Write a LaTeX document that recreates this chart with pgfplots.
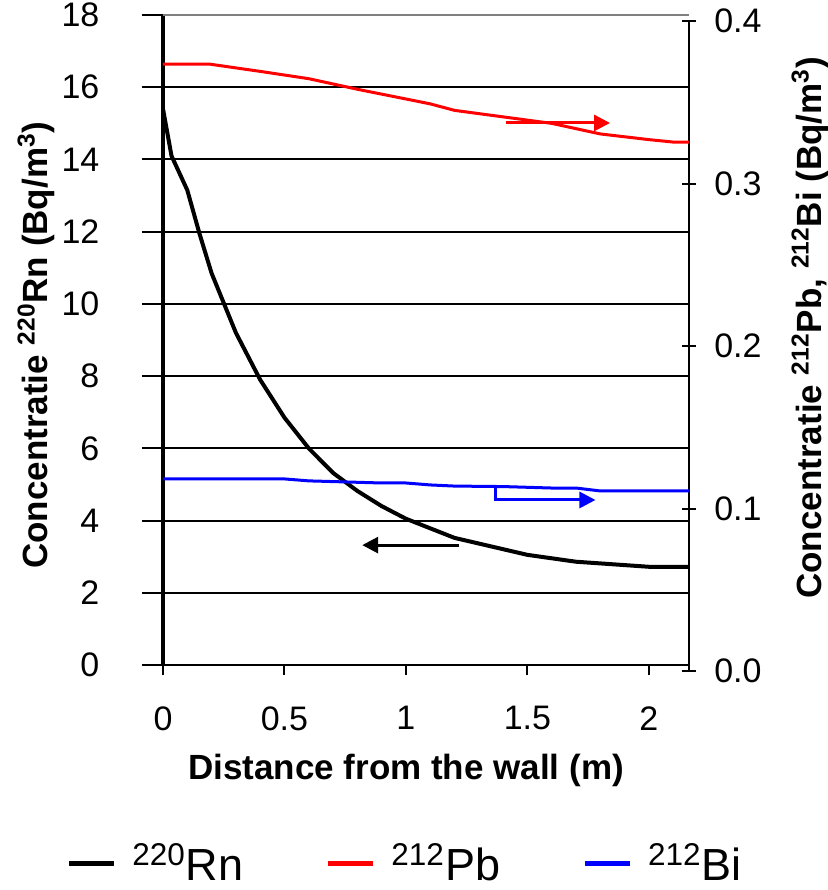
\documentclass[border=0pt]{standalone}
\usepackage{pgfplots}
\pgfplotsset{compat=1.18}
\usepackage{fontspec}
\setmainfont{Liberation Sans}
\usetikzlibrary{arrows.meta}
\definecolor{pbred}{RGB}{255,0,0}
\definecolor{biblue}{RGB}{0,0,255}
\begin{document}
\begin{tikzpicture}
\begin{axis}[name=main, scale only axis, width=263pt, height=325pt,
  xmin=0, xmax=2.165, ymin=0, ymax=18,
  axis x line*=bottom, axis y line*=left,
  x axis line style={line width=1pt,-},
  y axis line style={line width=1.75pt,-},
  xtick={0,0.5,1,1.5,2}, ytick={0,2,...,18},
  tick align=outside,
  xtick style={black, line width=1pt, /pgfplots/major tick length=5pt},
  ytick style={black, line width=1pt, /pgfplots/major tick length=10.5pt},
  ymajorgrids, grid style={black, line width=1pt},
  tick label style={font=\fontsize{17}{20}\selectfont},
  /pgf/number format/assume math mode=true,
  yticklabel style={xshift=-24pt},
  xticklabel style={yshift=-13pt},
  clip=false,
  xlabel={Distance from the wall (m)},
  ylabel={Concentratie \textsuperscript{220}Rn (Bq/m\textsuperscript{3})},
  every axis x label/.style={at={(axis description cs:0.462,0)}, yshift=-52.5pt, anchor=center, font=\fontsize{17.5}{21}\selectfont\bfseries},
  every axis y label/.style={at={(axis description cs:0,0.492)}, xshift=-63.5pt, rotate=90, anchor=center, font=\fontsize{17.5}{21}\selectfont\bfseries},
]
\addplot[black, line width=2pt, line join=round] coordinates {
(0,15.4) (0.035,14.1) (0.1,13.15) (0.15,11.95) (0.2,10.85) (0.3,9.2) (0.4,7.9)
(0.5,6.85) (0.6,6.0) (0.7,5.32) (0.8,4.82) (0.9,4.4) (1.0,4.05) (1.2,3.52)
(1.5,3.05) (1.7,2.86) (2.0,2.72) (2.165,2.72)};
\draw[gray, line width=1pt] (rel axis cs:0,1) -- (rel axis cs:1,1);
\draw[black, line width=1.5pt, -{Triangle[length=8pt,width=8pt]}] (axis cs:1.22,3.32) -- (axis cs:0.82,3.32);
\draw[pbred, line width=1.5pt, -{Triangle[length=8pt,width=8pt]}] (axis cs:1.41,15.01) -- (axis cs:1.84,15.01);
\draw[biblue, line width=1.5pt, -{Triangle[length=8pt,width=8pt]}] (axis cs:1.37,4.99) -- (axis cs:1.37,4.57) -- (axis cs:1.78,4.57);
\end{axis}
\begin{axis}[at={(main.south west)}, anchor=south west, yshift=-3pt,
  scale only axis, width=263pt, height=325pt,
  xmin=0, xmax=2.165, ymin=0, ymax=0.4,
  axis x line=none, axis y line*=right,
  y axis line style={line width=1pt,-},
  ytick={0,0.1,...,0.4},
  tick align=center,
  ytick style={black, line width=1pt, /pgfplots/major tick length=7pt},
  tick label style={font=\fontsize{17}{20}\selectfont},
  /pgf/number format/assume math mode=true,
  yticklabel style={/pgf/number format/fixed, /pgf/number format/fixed zerofill, /pgf/number format/precision=1, xshift=7pt},
  clip=false,
  ylabel={Concentratie \textsuperscript{212}Pb, \textsuperscript{212}Bi (Bq/m\textsuperscript{3})},
  every axis y label/.style={at={(axis description cs:1,0.528)}, xshift=60.5pt, rotate=90, anchor=center, font=\fontsize{17.5}{21}\selectfont\bfseries},
  legend style={at={(axis description cs:0.462,-0.296)}, anchor=center, draw=none, fill=none,
    font=\fontsize{22.5}{26}\selectfont, legend columns=3,
    /tikz/every odd column/.append style={column sep=6pt},
    /tikz/every even column/.append style={column sep=39pt}},
  legend image code/.code={\draw[#1] (0pt,0pt) -- (22.5pt,0pt);},
]
\addlegendimage{black, line width=2.5pt}
\addlegendentry{\textsuperscript{220}Rn}
\addplot[pbred, line width=1.5pt, forget plot] coordinates {
(0,0.3735) (0.19,0.3735) (0.4,0.369) (0.6,0.3645) (0.8,0.358) (1.0,0.352) (1.1,0.349)
(1.2,0.345) (1.4,0.341) (1.6,0.337) (1.8,0.3305) (2.0,0.327) (2.1,0.3255) (2.165,0.3255)};
\addlegendimage{pbred, line width=2.5pt}
\addlegendentry{\textsuperscript{212}Pb}
\addplot[biblue, line width=1.5pt, forget plot] coordinates {
(0,0.1182) (0.5,0.1182) (0.6,0.117) (0.9,0.1157) (1.0,0.1157) (1.1,0.1145) (1.2,0.1138)
(1.4,0.1135) (1.6,0.1126) (1.7,0.1126) (1.8,0.1108) (2.165,0.1108)};
\addlegendimage{biblue, line width=2.5pt}
\addlegendentry{\textsuperscript{212}Bi}
\end{axis}
\pgfresetboundingbox
\path ([shift={(-81.5pt,-112.5pt)}]main.south west) rectangle ++(413.5pt,445pt);
\end{tikzpicture}
\end{document}
